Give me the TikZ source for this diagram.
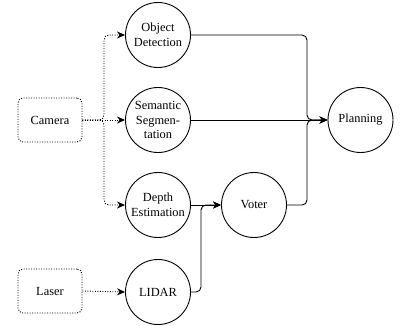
\documentclass[tikz,border=0pt]{standalone}
\usepackage{fontspec}
\setmainfont{Liberation Serif}
\newfontfamily\labelfont{Liberation Serif}
\usetikzlibrary{arrows.meta}
\begin{document}
\begin{tikzpicture}[x=1pt,y=-1pt,
  lbl/.style={font=\labelfont\fontsize{12.4}{14.5}\selectfont, align=center},
  proc/.style={lbl, circle, draw, line width=0.9pt, minimum size=65pt, inner sep=0pt},
  srcbox/.style={lbl, draw, line width=0.9pt, dash pattern=on 1pt off 1.5pt,
    rounded corners=5pt, minimum width=64pt, minimum height=44pt, inner sep=0pt},
  flow/.style={line width=0.9pt, rounded corners=5pt,
    -{Stealth[length=8pt,width=7pt,inset=2.5pt]}},
  feed/.style={flow, dash pattern=on 1pt off 1.5pt}
]
\useasboundingbox (0,0) rectangle (401,325);

% sensors
\node[srcbox] (cam) at (50,120) {Camera};
\node[srcbox] (las) at (50,291) {Laser};

% processing stages
\node[proc] (od) at (158,35)  {Object\\Detection};
\node[proc] (ss) at (158,120) {Semantic\\Segmen-\\tation};
\node[proc] (de) at (158,205) {Depth\\Estimation};
\node[proc] (li) at (158,292) {LIDAR};
\node[proc] (vo) at (254,205) {Voter};
\node[proc] (pl) at (360.5,120) {Planning};

% camera fan-out
\coordinate (camsplit) at (104,120);
\draw[feed] (cam.east) -- (camsplit) |- (od.west);
\draw[feed] (cam.east) -- (ss.west);
\draw[feed] (cam.east) -- (camsplit) |- (de.west);

% laser to lidar
\draw[feed] (las.east) -- (li.west);

% depth fusion
\coordinate (lidarup) at (201,292);
\draw[flow] (de.east) -- (vo.west);
\draw[flow] (li.east) -- (lidarup) |- (vo.west);

% into planning
\coordinate (planjoin) at (307,120);
\draw[flow] (od.east) -| (planjoin) -- (pl.west);
\draw[flow] (ss.east) -- (pl.west);
\draw[flow] (vo.east) -| (planjoin) -- (pl.west);
\end{tikzpicture}
\end{document}
